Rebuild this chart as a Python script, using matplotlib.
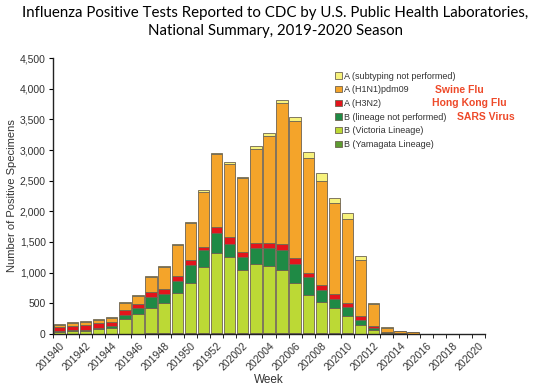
import matplotlib.pyplot as plt
from matplotlib.patches import Patch
import numpy as np

# weeks 2019-40 .. 2020-20
weeks = ["2019%02d" % w for w in range(40, 53)] + ["2020%02d" % w for w in range(1, 21)]

# counts per week (bottom to top of stack)
b_yamagata = [5, 5, 5, 5, 5, 5, 5, 8, 10, 10, 12, 15, 15, 15, 12, 15, 15, 15, 12, 10,
              10, 8, 8, 5, 3, 2, 0, 0, 0, 0, 0, 0, 0]
b_victoria = [35, 45, 50, 75, 95, 235, 320, 421, 490, 653, 814, 1082, 1300, 1235, 1031, 1126, 1098, 1028, 814, 626,
              517, 411, 285, 142, 62, 8, 3, 2, 0, 0, 0, 0, 0]
b_not_done = [15, 15, 15, 20, 30, 70, 93, 179, 147, 196, 299, 272, 326, 212, 207, 266, 284, 326, 315, 288,
              190, 152, 141, 82, 37, 15, 3, 2, 0, 0, 0, 0, 0]
a_h3n2 = [55, 65, 75, 80, 60, 82, 70, 82, 86, 91, 82, 54, 98, 114, 91, 82, 82, 98, 93, 65,
          82, 76, 75, 65, 27, 15, 2, 1, 0, 0, 0, 0, 0]
a_h1n1 = [35, 50, 55, 55, 75, 120, 130, 234, 360, 502, 609, 899, 1191, 1192, 1197, 1522, 1749, 2293, 2243, 1875,
          1700, 1493, 1359, 913, 354, 60, 35, 28, 0, 0, 0, 0, 0]
a_not_sub = [10, 15, 15, 15, 15, 15, 16, 21, 15, 15, 15, 25, 25, 40, 25, 55, 44, 54, 65, 108,
             120, 82, 108, 70, 27, 10, 6, 5, 0, 0, 0, 0, 0]

series = [
    ("B (Yamagata Lineage)", b_yamagata, "#5e9c32"),
    ("B (Victoria Lineage)", b_victoria, "#bcd935"),
    ("B (lineage not performed)", b_not_done, "#1f8a45"),
    ("A (H3N2)", a_h3n2, "#e3141c"),
    ("A (H1N1)pdm09", a_h1n1, "#f4a42a"),
    ("A (subtyping not performed)", a_not_sub, "#f7f27c"),
]

plt.rcParams['font.family'] = ['Liberation Sans', 'DejaVu Sans']

fig = plt.figure(figsize=(5.5, 3.92), dpi=100)
ax = fig.add_axes([0.096, 0.148, 0.786, 0.704])

x = np.arange(len(weeks))
bottom = np.zeros(len(weeks))
for name, vals, col in series:
    v = np.array(vals, dtype=float)
    ax.bar(x, v, width=0.87, bottom=bottom, color=col, edgecolor="#6e6350", linewidth=0.6)
    bottom += v

ax.set_xlim(-0.5, len(weeks) - 0.5)
ax.set_ylim(0, 4500)
ax.set_yticks(np.arange(0, 4501, 500))
ax.set_yticklabels(["{:,}".format(t) for t in range(0, 4501, 500)], fontsize=7.5, color="#333333")
ax.set_xticks(x[::2])
ax.set_xticklabels(weeks[::2], rotation=45, ha="right", rotation_mode="anchor", fontsize=7.5, color="#333333")
ax.set_xticks(np.arange(-0.5, len(weeks), 1), minor=True)
ax.tick_params(axis="x", which="major", length=0, pad=5)
ax.tick_params(axis="x", which="minor", length=3, direction="out")
ax.tick_params(axis="y", length=3, direction="out", pad=2)
for s in ["top", "right"]:
    ax.spines[s].set_visible(False)
for s in ["left", "bottom"]:
    ax.spines[s].set_color("#222222")
    ax.spines[s].set_linewidth(1.0)

ax.set_ylabel("Number of Positive Specimens", fontsize=8, color="#333333", labelpad=2)
ax.set_xlabel("Week", fontsize=8.5, color="#333333", labelpad=1)

fig.suptitle("Influenza Positive Tests Reported to CDC by U.S. Public Health Laboratories,\n"
             "National Summary, 2019-2020 Season",
             fontsize=10.8, family="Lato", y=0.985, linespacing=1.4)

handles = [Patch(facecolor=c, edgecolor="#6e6350", linewidth=0.6, label=n) for n, v, c in series[::-1]]
leg = ax.legend(handles=handles, loc="upper left", bbox_to_anchor=(0.635, 0.98), frameon=False,
                fontsize=6.5, handlelength=0.7, handleheight=0.7, handletextpad=0.2, labelspacing=0.52)
for t in leg.get_texts():
    t.set_color("#333333")

for label, xx, yy in [("Swine Flu", 435, 90), ("Hong Kong Flu", 432, 103), ("SARS Virus", 457, 117)]:
    fig.text(xx / 550, 1 - yy / 392, label, color="#ee4a2a", fontsize=7.5, fontweight="bold", va="center")

fig.savefig("out.png", dpi=100)
